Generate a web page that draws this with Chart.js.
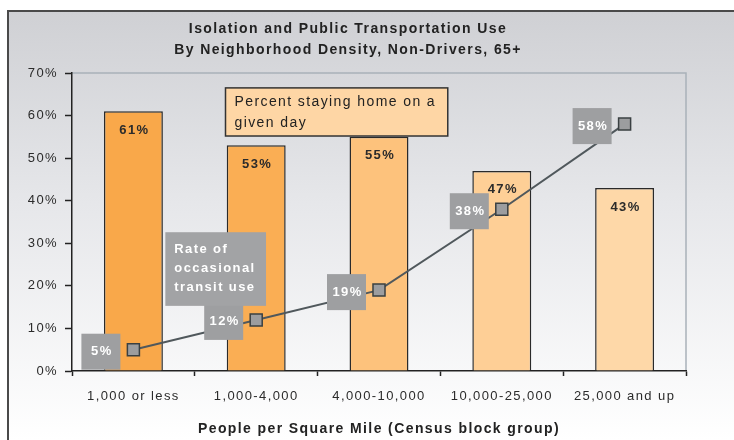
<!DOCTYPE html>
<html>
<head>
<meta charset="utf-8">
<script src="https://cdn.jsdelivr.net/npm/chart.js@4.4.1/dist/chart.umd.min.js"></script>
<style>
  html, body { margin: 0; padding: 0; background: #fff; }
  #wrap { width: 734px; height: 440px; position: relative; }
</style>
</head>
<body>
<div id="wrap"><canvas id="densityChart"></canvas></div>
<script>
const densityLabels = ["1,000 or less", "1,000-4,000", "4,000-10,000", "10,000-25,000", "25,000 and up"];
const stayHomePct = [61, 53, 55, 47, 43];
const transitUsePct = [5, 12, 19, 38, 58];
const yTickMax = 70;
const yTickStep = 10;

const barColors = ["#f9a84a", "#faae54", "#fdc27c", "#fecf96", "#fed8a8"];
const FONT = "'Liberation Sans', Arial, sans-serif";

// callout boxes, placed in axis units (category index, percent)
const callouts = [
  { lines: ["Percent staying home on a", "given day"], x0: 0.75, x1: 2.56, y0: 66.5, y1: 55.2,
    fill: "#fed6a5", stroke: "#333", color: "#222", font: "14px ", top: 14, lh: 21 },
  { lines: ["Rate of", "occasional", "transit use"], x0: 0.26, x1: 1.08, y0: 32.6, y1: 15.3,
    fill: "#a2a3a5", stroke: null, color: "#fff", font: "bold 13px ", top: 17, lh: 19 }
];

// the source lettering is loosely tracked
function spacing(ctx) {
  ctx.letterSpacing = "1.4px";
}

const framePlugin = {
  id: "frame",
  beforeUpdate(chart) { spacing(chart.ctx); },
  beforeDraw(chart) {
    const { ctx, width, height, chartArea: a } = chart;
    spacing(ctx);
    ctx.save();
    ctx.fillStyle = "#fff";
    ctx.fillRect(0, 0, width, height);
    const g = ctx.createLinearGradient(0, 10, 0, height);
    g.addColorStop(0, "#cfd0d4");
    g.addColorStop(0.45, "#e6e7ea");
    g.addColorStop(1, "#ffffff");
    ctx.fillStyle = g;
    ctx.fillRect(7, 10, width - 7, height - 10);
    ctx.strokeStyle = "#4a4a4a";
    ctx.lineWidth = 2;
    ctx.beginPath();
    ctx.moveTo(8, height);
    ctx.lineTo(8, 11);
    ctx.lineTo(width, 11);
    ctx.stroke();
    // top and right edges of the plot area
    ctx.strokeStyle = "#a9b1b9";
    ctx.lineWidth = 1.5;
    ctx.beginPath();
    ctx.moveTo(a.left, a.top);
    ctx.lineTo(a.right, a.top);
    ctx.lineTo(a.right, a.bottom);
    ctx.stroke();
    ctx.restore();
  }
};

const labelPlugin = {
  id: "valueLabels",
  afterDatasetsDraw(chart) {
    const ctx = chart.ctx;
    const xs = chart.scales.x, ys = chart.scales.y;
    ctx.save();
    ctx.textAlign = "center";
    ctx.textBaseline = "middle";

    // bar values, inside the top of each bar
    ctx.font = "bold 13px " + FONT;
    ctx.fillStyle = "#2b2b2b";
    chart.getDatasetMeta(0).data.forEach((bar, i) => {
      ctx.fillText(stayHomePct[i] + "%", bar.x + 1, bar.y + 19);
    });

    // transit values, grey tags left of each point
    chart.getDatasetMeta(1).data.forEach((pt, i) => {
      const w = 39, h = 36;
      const right = pt.x - 13;
      ctx.fillStyle = "#9e9fa1";
      ctx.fillRect(right - w, pt.y - h / 2 + 2, w, h);
      ctx.fillStyle = "#fff";
      ctx.fillText(transitUsePct[i] + "%", right - w / 2 + 1, pt.y + 2);
    });

    // callout boxes
    callouts.forEach(c => {
      const l = xs.getPixelForValue(c.x0), r = xs.getPixelForValue(c.x1);
      const t = ys.getPixelForValue(c.y0), b = ys.getPixelForValue(c.y1);
      ctx.fillStyle = c.fill;
      ctx.fillRect(l, t, r - l, b - t);
      if (c.stroke) {
        ctx.strokeStyle = c.stroke;
        ctx.lineWidth = 1.5;
        ctx.strokeRect(l, t, r - l, b - t);
      }
      ctx.fillStyle = c.color;
      ctx.textAlign = "left";
      ctx.font = c.font + FONT;
      c.lines.forEach((s, k) => ctx.fillText(s, l + 9, t + c.top + k * c.lh));
    });
    ctx.restore();
  }
};

new Chart(document.getElementById("densityChart"), {
  data: {
    labels: densityLabels,
    datasets: [
      {
        type: "bar",
        label: "Percent staying home on a given day",
        data: stayHomePct,
        backgroundColor: barColors,
        borderColor: "#2a2a2a",
        borderWidth: 1.5,
        categoryPercentage: 1,
        barPercentage: 0.48,
        order: 2
      },
      {
        type: "line",
        label: "Rate of occasional transit use",
        data: transitUsePct,
        borderColor: "#50585c",
        borderWidth: 2,
        pointStyle: "rect",
        pointRadius: 8.5,
        pointBackgroundColor: "#9c9d9f",
        pointBorderColor: "#3a4042",
        pointBorderWidth: 1.5,
        tension: 0,
        order: 1
      }
    ]
  },
  options: {
    responsive: true,
    maintainAspectRatio: false,
    animation: false,
    layout: { padding: { top: 14, left: 10, right: 48, bottom: 0 } },
    plugins: {
      legend: { display: false },
      tooltip: { enabled: false },
      title: {
        display: true,
        text: ["Isolation and Public Transportation Use", "By Neighborhood Density, Non-Drivers, 65+"],
        font: { family: FONT, size: 14, weight: "bold", lineHeight: 1.5 },
        color: "#222",
        padding: { top: 5, bottom: 12 }
      }
    },
    scales: {
      x: {
        grid: { display: true, drawOnChartArea: false, offset: true, tickLength: 5, tickColor: "#222", tickWidth: 1.5 },
        border: { color: "#222", width: 1.5 },
        ticks: { font: { family: FONT, size: 13 }, color: "#2b2b2b", padding: 13, maxRotation: 0 },
        title: { display: true, text: "People per Square Mile (Census block group)", font: { family: FONT, size: 14, weight: "bold" }, color: "#222", padding: { top: 8, bottom: 2 } },
        afterFit(s) { s.height = 69; }
      },
      y: {
        min: 0,
        max: yTickMax,
        grid: { display: true, drawOnChartArea: false, tickLength: 7, tickColor: "#222", tickWidth: 1.5 },
        border: { color: "#222", width: 1.5 },
        ticks: { stepSize: yTickStep, callback: v => v + "%", font: { family: FONT, size: 13 }, color: "#2b2b2b", padding: 7 },
        afterFit(s) { s.width = 62; }
      }
    }
  },
  plugins: [framePlugin, labelPlugin]
});
</script>
</body>
</html>
